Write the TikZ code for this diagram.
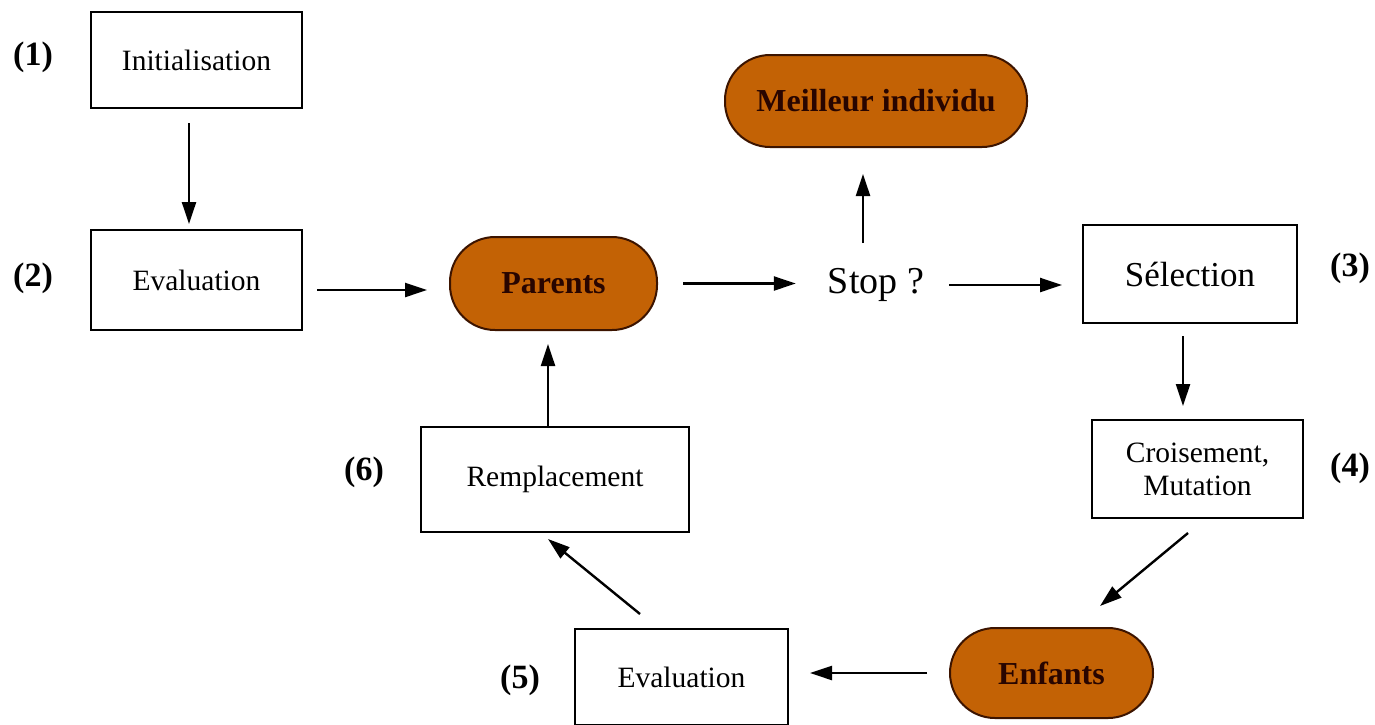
\documentclass[tikz,border=0pt]{standalone}
\usepackage{fontspec}
\setmainfont{Liberation Serif}
\usetikzlibrary{arrows.meta,calc}
\definecolor{ochre}{RGB}{195,98,5}
\definecolor{brownline}{RGB}{60,20,0}
\definecolor{browntext}{RGB}{40,5,0}
\tikzset{
  box/.style={draw=black,line width=2pt,fill=white,inner sep=0pt,
    font=\fontsize{29.5}{33}\selectfont,align=center},
  pill/.style={draw=brownline,line width=2pt,fill=ochre,rounded corners=45pt,
    inner sep=0pt,font=\fontsize{32}{36}\selectfont\bfseries,text=browntext},
  numlabel/.style={font=\fontsize{34}{36}\selectfont\bfseries,inner sep=0pt},
  arr/.style={line width=2.4pt,-{Triangle[length=22pt,width=14pt]}},
}
\begin{document}
\begin{tikzpicture}[x=1pt,y=-1pt]
\useasboundingbox (0,0) rectangle (1375,724);
% nodes
\node[box,minimum width=211pt,minimum height=96pt] (init) at (196.5,60) {Initialisation};
\node[box,minimum width=211pt,minimum height=100pt] (evalA) at (196.5,280) {Evaluation};
\node[pill,minimum width=207pt,minimum height=93pt] (parents) at (553.5,283.5) {Parents};
\node[inner sep=0pt,font=\fontsize{38}{40}\selectfont] (stop) at (876,285) {Stop ?};
\node[pill,minimum width=302pt,minimum height=92pt] (best) at (876,101) {Meilleur individu};
\node[box,minimum width=214pt,minimum height=98pt,font=\fontsize{35}{38}\selectfont] (sel) at (1190,274) {Sélection};
\node[box,minimum width=211pt,minimum height=98pt] (cross) at (1197.5,469) {Croisement,\\Mutation};
\node[pill,minimum width=203pt,minimum height=90pt] (enf) at (1051.5,673) {Enfants};
\node[box,minimum width=213pt,minimum height=96pt] (evalB) at (681.5,677) {Evaluation};
\node[box,minimum width=268pt,minimum height=105pt] (repl) at (555,479.5) {Remplacement};
% labels
\node[numlabel] (l1) at (33,57) {(1)};
\node[numlabel] (l2) at (33,278) {(2)};
\node[numlabel] (l3) at (1350,268) {(3)};
\node[numlabel] (l4) at (1350,468) {(4)};
\node[numlabel] (l5) at (520,680) {(5)};
\node[numlabel] (l6) at (364,472) {(6)};
% connectors
\draw[arr] ([shift={(-7.5,14)}]init.south) -- ([shift={(-7.5,-5)}]evalA.north);
\draw[arr] ([shift={(14,10)}]evalA.east) -- ([shift={(-22,6.5)}]parents.west);
\draw[arr,shorten <=25pt,shorten >=32pt] (parents.east) -- (parents.east -| stop.west);
\draw[arr,shorten <=25pt,shorten >=20pt] (stop.east) -- (stop.east -| sel.west);
\draw[arr] ([shift={(-13,-25)}]stop.north) -- ([shift={(-13,26)}]best.south);
\draw[arr] ($(sel.south)+(-7,12)$) -- ($(sel.south |- cross.north)+(-7,-13)$);
\draw[arr] ([shift={(-9.5,14)}]cross.south) -- ([shift={(48.5,-21)}]enf.north);
\draw[arr,shorten <=22pt,shorten >=21pt] (enf.west) -- (enf.west -| evalB.east);
\draw[arr] ([shift={(-41.5,-14)}]evalB.north) -- ([shift={(-7,6)}]repl.south);
\draw[arr] ([shift={(-7,0)}]repl.north) -- ([shift={(-5.5,13)}]parents.south);
\end{tikzpicture}
\end{document}
